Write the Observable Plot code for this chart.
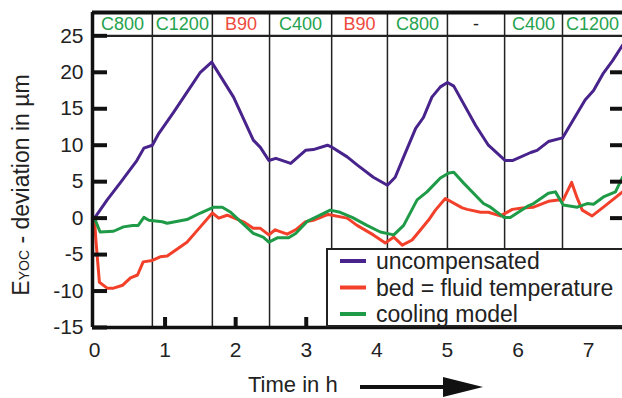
<!DOCTYPE html>
<html><head><meta charset="utf-8">
<script src="https://cdn.jsdelivr.net/npm/d3@7"></script>
<script src="https://cdn.jsdelivr.net/npm/@observablehq/plot@0.6"></script>
<style>body{margin:0;background:#fff;overflow:hidden} svg{display:block}</style>
</head><body><div id="chart"></div>
<script>
// ---- data ----
const uncT = [0, 0.18, 0.37, 0.6, 0.7, 0.82, 0.91, 1.12, 1.3, 1.5, 1.66, 1.97, 2.25, 2.35, 2.47, 2.57, 2.78, 2.99, 3.1, 3.3, 3.37, 3.58, 3.72, 3.95, 4.15, 4.26, 4.38, 4.55, 4.66, 4.78, 4.9, 5.0, 5.09, 5.4, 5.58, 5.82, 5.92, 6.18, 6.27, 6.43, 6.63, 6.71, 6.95, 7.07, 7.21, 7.34, 7.48];
const uncV = [0, 2.5, 4.9, 7.9, 9.6, 10.0, 11.6, 14.5, 17.1, 20.0, 21.4, 16.6, 10.7, 9.7, 7.9, 8.2, 7.5, 9.3, 9.4, 10.0, 9.7, 8.4, 7.3, 5.6, 4.5, 5.6, 8.4, 12.3, 13.8, 16.6, 18.0, 18.6, 18.1, 12.7, 10.0, 7.9, 7.9, 9.0, 9.3, 10.5, 11.0, 12.3, 16.2, 17.5, 19.9, 21.6, 23.7];

const bedT = [0, 0.02, 0.07, 0.18, 0.27, 0.4, 0.51, 0.61, 0.69, 0.82, 0.93, 1.03, 1.31, 1.5, 1.67, 1.76, 1.88, 2.11, 2.25, 2.35, 2.47, 2.56, 2.73, 2.85, 2.99, 3.1, 3.31, 3.58, 3.72, 3.95, 4.12, 4.24, 4.36, 4.5, 4.62, 4.73, 4.83, 4.97, 5.21, 5.28, 5.47, 5.58, 5.75, 5.92, 6.06, 6.22, 6.43, 6.57, 6.64, 6.76, 6.84, 6.91, 7.05, 7.21, 7.48];
const bedV = [0, -3.0, -8.8, -9.6, -9.6, -9.2, -8.2, -7.8, -6.0, -5.8, -5.3, -5.2, -3.3, -1.2, 0.7, 0.0, 0.4, -0.5, -1.4, -1.4, -2.3, -1.6, -2.2, -1.6, -0.5, -0.3, 0.5, 0.0, -1.0, -2.3, -3.4, -2.6, -3.7, -3.0, -1.6, -0.3, 1.1, 2.7, 1.4, 1.2, 0.8, 0.8, 0.3, 1.2, 1.4, 1.5, 2.3, 2.5, 2.5, 4.9, 2.7, 1.1, 0.3, 1.5, 3.6];

const coolT = [0, 0.08, 0.27, 0.41, 0.54, 0.62, 0.7, 0.77, 0.96, 1.03, 1.31, 1.5, 1.69, 1.81, 1.93, 2.25, 2.39, 2.47, 2.59, 2.75, 2.85, 3.02, 3.13, 3.34, 3.48, 3.65, 3.86, 4.05, 4.24, 4.38, 4.57, 4.71, 4.83, 4.9, 5.02, 5.09, 5.23, 5.51, 5.61, 5.8, 5.89, 6.13, 6.22, 6.43, 6.53, 6.64, 6.84, 6.98, 7.07, 7.21, 7.38, 7.48];
const coolV = [0, -1.9, -1.8, -1.2, -1.0, -1.0, 0.1, -0.3, -0.5, -0.7, -0.2, 0.7, 1.5, 1.5, 0.8, -2.1, -2.6, -3.3, -2.7, -2.7, -2.1, -0.4, 0.1, 1.1, 0.8, 0.1, -1.0, -1.9, -2.3, -1.0, 2.5, 3.6, 4.8, 5.5, 6.2, 6.3, 4.8, 2.0, 1.5, 0.1, 0.1, 1.6, 2.0, 3.4, 3.6, 1.8, 1.5, 2.0, 1.9, 2.9, 3.6, 5.6];

const boundaries = [0.82, 1.67, 2.48, 3.36, 4.15, 5.0, 5.81, 6.63];
const segLabels = ["C800", "C1200", "B90", "C400", "B90", "C800", "-", "C400", "C1200"];
const segKinds  = ["C", "C", "B", "C", "B", "C", "-", "C", "C"];
const yTicks = [-15, -10, -5, 0, 5, 10, 15, 20, 25];
const xTicks = [0, 1, 2, 3, 4, 5, 6, 7];
const seriesNames = ["uncompensated", "bed = fluid temperature", "cooling model"];
const seriesColors = ["#48238c", "#f2402a", "#1f9b48"];

// ---- build ----
const xMin = -0.028, xMax = 7.48, yMin = -15, yMax = 28.2, bandBottom = 25;
const rows = [];
[[uncT, uncV], [bedT, bedV], [coolT, coolV]].forEach(([T, V], i) => {
  T.forEach((t, j) => rows.push({series: seriesNames[i], t, v: V[j]}));
});
const edges = [xMin, ...boundaries, xMax];
const segs = segLabels.map((s, i) => ({label: s, x: (edges[i] + edges[i + 1]) / 2, kind: segKinds[i]}));
const kindColor = k => k === "B" ? "#ef4a40" : k === "C" ? "#25a24e" : "#222";
const xPerPx = (xMax - xMin) / 530, yPerPx = (yMax - yMin) / 315;

const FONT = "'Liberation Sans', Arial, Helvetica, sans-serif";
const plot = Plot.plot({
  width: 622, height: 398,
  marginLeft: 92, marginRight: 0, marginTop: 12, marginBottom: 71,
  style: {fontFamily: FONT, background: "white"},
  x: {domain: [xMin, xMax]},
  y: {domain: [yMin, yMax]},
  color: {domain: seriesNames, range: seriesColors},
  marks: [
    Plot.ruleX(boundaries, {y1: yMin, y2: yMax, stroke: "#222", strokeWidth: 1.5}),
    Plot.ruleY([bandBottom], {stroke: "#222", strokeWidth: 2.2}),
    Plot.text(segs, {x: "x", y: (bandBottom + yMax) / 2, text: "label", fill: d => kindColor(d.kind), fontSize: 18}),
    Plot.line(rows, {x: "t", y: "v", z: "series", stroke: "series", strokeWidth: 3, strokeLinejoin: "round"}),
    Plot.axisY(yTicks, {anchor: "left", tickSize: 0, tickPadding: 9, fontSize: 21, tickFormat: d => String(d), label: null, fill: "#222"}),
    Plot.axisX(xTicks, {anchor: "bottom", tickSize: 0, tickPadding: 15, fontSize: 21, tickFormat: d => String(d), label: null, fill: "#222"}),
    // inward ticks
    Plot.ruleY(yTicks, {x1: xMin, x2: xMin + 15 * xPerPx, stroke: "#111", strokeWidth: 4}),
    Plot.ruleY(yTicks.filter(d => d >= 0 && d <= 20), {x1: xMax - 12 * xPerPx, x2: xMax, stroke: "#111", strokeWidth: 4}),
    Plot.ruleX(xTicks.filter(d => d > 0), {y1: yMin, y2: yMin + 10 * yPerPx, stroke: "#111", strokeWidth: 4}),
    // frame
    Plot.ruleX([xMin], {stroke: "#111", strokeWidth: 3.5}),
    Plot.ruleY([yMin], {stroke: "#111", strokeWidth: 3.5}),
    Plot.ruleY([yMax], {stroke: "#111", strokeWidth: 4})
  ]
});
document.getElementById("chart").appendChild(plot);

// ---- axis titles, arrow, legend ----
const svg = d3.select(plot);
const yt = svg.append("text")
  .attr("transform", "translate(29,185) rotate(-90)")
  .attr("text-anchor", "middle")
  .attr("font-family", FONT).attr("font-size", 23).attr("fill", "#222");
yt.append("tspan").text("E");
yt.append("tspan").attr("font-size", 14).text("YOC");
yt.append("tspan").text(" - deviation in µm");

svg.append("text").attr("x", 248).attr("y", 392).attr("text-anchor", "start")
  .attr("font-family", FONT).attr("font-size", 22).attr("fill", "#222").text("Time in h");
svg.append("line").attr("x1", 360).attr("x2", 450).attr("y1", 387).attr("y2", 387)
  .attr("stroke", "#111").attr("stroke-width", 4);
svg.append("polygon").attr("points", "443,377 483,387 443,397").attr("fill", "#111");

const lg = svg.append("g");
lg.append("rect").attr("x", 327).attr("y", 249).attr("width", 300).attr("height", 77)
  .attr("fill", "white").attr("stroke", "#222").attr("stroke-width", 2);
seriesNames.forEach((name, i) => {
  const yy = 261 + i * 26.5;
  lg.append("line").attr("x1", 340).attr("x2", 366).attr("y1", yy).attr("y2", yy)
    .attr("stroke", seriesColors[i]).attr("stroke-width", 4);
  lg.append("text").attr("x", 376).attr("y", yy).attr("dy", "0.36em").attr("text-anchor", "start")
    .attr("font-family", FONT).attr("font-size", 23).attr("fill", "#222").text(name);
});
</script>
</body></html>
